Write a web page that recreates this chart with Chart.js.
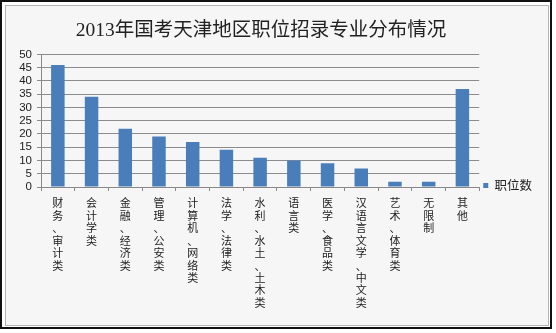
<!DOCTYPE html>
<html>
<head>
<meta charset="utf-8">
<script src="https://cdn.jsdelivr.net/npm/chart.js@4.4.1/dist/chart.umd.min.js"></script>
<style>
  body { margin: 0; background: #fff; }
  .outer { position: absolute; left: 0; top: 0; width: 552px; height: 329px; box-sizing: border-box; border: 2px solid #111; background: #fff; }
  .inner { position: absolute; left: 5px; top: 5px; width: 544px; height: 321px; box-sizing: border-box; border: 1px solid #b4b4b4; background: #f6f6f6; }
  #wrap { position: absolute; left: 0; top: 0; width: 556px; height: 333px; }
</style>
</head>
<body>
<div class="outer"></div>
<div class="inner"></div>
<div id="wrap"><canvas id="chart"></canvas></div>
<script>
  // categories (vertical text in the picture)
  var categories = [
    "财务、审计类", "会计学类", "金融、经济类", "管理、公安类", "计算机、网络类",
    "法学、法律类", "水利、水土、土木类", "语言类", "医学、食品类",
    "汉语言文学、中文类", "艺术、体育类", "无限制", "其他"
  ];
  var positions = [46, 34, 22, 19, 17, 14, 11, 10, 9, 7, 2, 2, 37];
  var seriesName = "职位数";
  var yTicks = [0, 5, 10, 15, 20, 25, 30, 35, 40, 45, 50];

  // stack characters one per line
  var labels = categories.map(function (c) { return c.split(""); });

  var LEGEND_DY = 19;
  var TITLE_DX = -10;

  // nudge legend down and title left to match the original layout
  var nudge = {
    id: "nudge",
    afterLayout: function (chart) {
      var lg = chart.legend;
      if (lg) { lg.top += LEGEND_DY; lg.bottom += LEGEND_DY; }
      var tb = chart.titleBlock;
      if (tb) { tb.left += TITLE_DX; tb.right += TITLE_DX; }
    }
  };

  var ctx = document.getElementById("chart").getContext("2d");
  new Chart(ctx, {
    type: "bar",
    data: {
      labels: labels,
      datasets: [{
        label: seriesName,
        data: positions,
        backgroundColor: "#4a7ebb",
        borderWidth: 0,
        barPercentage: 0.4,
        categoryPercentage: 1
      }]
    },
    plugins: [nudge],
    options: {
      responsive: true,
      maintainAspectRatio: false,
      animation: false,
      layout: { padding: { left: 0, right: 14, top: 0, bottom: 0 } },
      plugins: {
        title: {
          display: true,
          text: "2013年国考天津地区职位招录专业分布情况",
          color: "#222",
          font: { family: "'Liberation Serif', 'Noto Sans CJK SC'", size: 19.5, weight: "normal", lineHeight: 1.2 },
          padding: { top: 19, bottom: 12 }
        },
        legend: {
          position: "right",
          labels: {
            boxWidth: 5,
            boxHeight: 5,
            padding: 4,
            color: "#222",
            font: { family: "'Noto Sans CJK SC'", size: 12.5 }
          }
        },
        tooltip: { enabled: false }
      },
      scales: {
        x: {
          grid: { offset: true, drawOnChartArea: false, drawTicks: true, tickLength: 4, color: "#888" },
          border: { color: "#888" },
          ticks: {
            maxRotation: 0,
            minRotation: 0,
            autoSkip: false,
            padding: 6,
            color: "#222",
            font: { family: "'Noto Sans CJK SC'", size: 11, lineHeight: 1.13 }
          },
          afterFit: function (scale) { scale.height = 146; }
        },
        y: {
          min: 0,
          max: 50,
          afterBuildTicks: function (scale) {
            scale.ticks = yTicks.map(function (v) { return { value: v }; });
          },
          grid: { color: "#8c8c8c", tickLength: 4 },
          border: { color: "#888" },
          ticks: {
            autoSkip: false,
            padding: 5,
            color: "#222",
            font: { family: "'Liberation Sans'", size: 11.5 }
          },
          afterFit: function (scale) { scale.width = 41; }
        }
      }
    }
  });
</script>
</body>
</html>
